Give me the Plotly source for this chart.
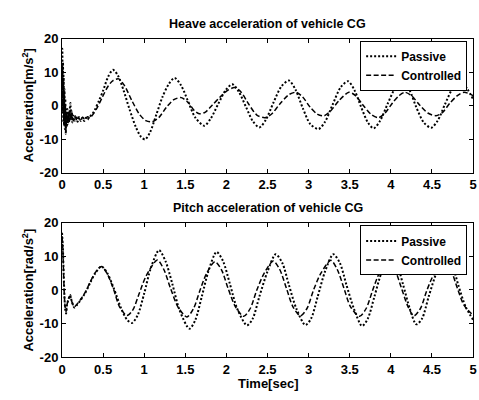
import plotly.graph_objects as go

# ---------------- data ----------------
heave_passive_t = [0.000, 0.004, 0.008, 0.012, 0.016, 0.020, 0.025, 0.030, 0.035, 0.040, 0.046, 0.052,
                   0.058, 0.065, 0.072, 0.080, 0.088, 0.095, 0.102, 0.110, 0.118, 0.126, 0.140, 0.155,
                   0.170, 0.190, 0.210, 0.230, 0.250, 0.270, 0.290, 0.310, 0.330, 0.360, 0.400, 0.450,
                   0.500, 0.560, 0.620, 0.680, 0.750, 0.820, 0.900, 0.960, 1.010, 1.070, 1.150, 1.220,
                   1.300, 1.370, 1.450, 1.530, 1.620, 1.730, 1.810, 1.900, 1.990, 2.070, 2.150, 2.240,
                   2.320, 2.400, 2.480, 2.570, 2.670, 2.760, 2.840, 2.930, 3.020, 3.120, 3.200, 3.290,
                   3.390, 3.480, 3.560, 3.640, 3.720, 3.790, 3.870, 3.960, 4.060, 4.150, 4.230, 4.310,
                   4.400, 4.490, 4.570, 4.660, 4.760, 4.850, 4.930, 5.000]
heave_passive = [0, 17, -2, 13, -5, 9, -6, 5, -7, 2, -8.5, -2,
                 -6.5, -1, -5.5, -2, -5, -1, 0.8, -4, -1.5, -5, -3, -4.5,
                 -3, -4.8, -3.5, -4.6, -3.6, -4.6, -3.6, -4.2, -3.4, -2.8, -1.2, 1.5,
                 4.5, 8.6, 10.7, 9.0, 4.5, -1.0, -6.5, -9.3, -10.1, -8.0, -2.5, 2.5,
                 6.5, 8.3, 6.0, 1.5, -3.5, -6.0, -3.8, 0.5, 4.6, 6.4, 4.2, -0.5,
                 -4.6, -6.5, -4.2, 0.8, 5.8, 7.5, 4.8, -0.8, -5.5, -7.0, -4.8, 0.2,
                 5.5, 7.3, 4.5, -0.5, -5.0, -6.8, -4.5, 0.5, 5.5, 7.3, 4.5, -0.5,
                 -5.0, -6.6, -4.5, 0.5, 5.5, 7.3, 5.0, 2.0]

heave_controlled_t = [0.000, 0.004, 0.009, 0.014, 0.020, 0.027, 0.034, 0.042, 0.050, 0.060, 0.070, 0.080,
                      0.090, 0.100, 0.110, 0.125, 0.140, 0.160, 0.180, 0.200, 0.220, 0.250, 0.280, 0.310,
                      0.340, 0.380, 0.430, 0.490, 0.560, 0.620, 0.690, 0.760, 0.850, 0.940, 1.020, 1.100,
                      1.180, 1.270, 1.360, 1.450, 1.540, 1.610, 1.670, 1.740, 1.830, 1.920, 2.010, 2.100,
                      2.180, 2.270, 2.370, 2.470, 2.550, 2.650, 2.760, 2.850, 2.930, 3.020, 3.110, 3.190,
                      3.270, 3.370, 3.490, 3.570, 3.660, 3.760, 3.850, 3.930, 4.020, 4.100, 4.170, 4.250,
                      4.350, 4.450, 4.550, 4.630, 4.720, 4.810, 4.890, 4.960, 5.000]
heave_controlled = [0, 12, -2, 7, -4, 3, -5, 0, -6, -2.5, -5, -2,
                    -4.5, -1.5, -4, -2.5, -4.5, -3, -4.5, -3.4, -4.5, -3.5, -4.2, -3.3,
                    -3.6, -2.5, -0.5, 2.5, 5.8, 7.5, 8.0, 6.0, 1.5, -2.5, -4.5, -4.8,
                    -3.5, -0.5, 1.8, 2.4, 0.8, -1.5, -2.4, -2.0, 0.2, 2.5, 4.5, 5.4,
                    4.0, 0.5, -2.8, -3.6, -2.5, 0.5, 3.3, 4.0, 2.5, -0.5, -2.6, -3.0,
                    -1.5, 1.5, 4.0, 3.0, 0.2, -2.6, -3.6, -2.2, 0.8, 3.0, 4.0, 3.0,
                    0.2, -2.2, -3.0, -2.0, 0.8, 3.0, 4.0, 3.5, 3.0]

pitch_passive_t = [0.000, 0.010, 0.020, 0.030, 0.040, 0.050, 0.060, 0.075, 0.090, 0.100, 0.120, 0.150,
                   0.180, 0.220, 0.280, 0.340, 0.400, 0.480, 0.550, 0.630, 0.720, 0.790, 0.850, 0.920,
                   1.000, 1.080, 1.180, 1.260, 1.340, 1.430, 1.550, 1.620, 1.700, 1.780, 1.880, 1.960,
                   2.040, 2.130, 2.250, 2.320, 2.400, 2.500, 2.600, 2.680, 2.760, 2.850, 2.960, 3.030,
                   3.110, 3.200, 3.300, 3.380, 3.460, 3.550, 3.650, 3.720, 3.800, 3.890, 3.990, 4.070,
                   4.150, 4.230, 4.310, 4.380, 4.460, 4.560, 4.660, 4.740, 4.820, 4.910, 5.000]
pitch_passive = [17, 13, 5, -2, -6, -7, -4.5, -3, -2, -1.5, -3.5, -5.2,
                 -4.5, -3.2, -1, 2, 4.8, 7.0, 5.0, 0.5, -5.5, -8.8, -9.8, -7.5,
                 -1.0, 6.5, 11.8, 8.5, 2.0, -6.0, -11.5, -9.0, -2.0, 5.5, 11.3, 8.5,
                 2.0, -5.5, -10.5, -8.5, -2.0, 5.5, 10.6, 8.0, 1.5, -5.5, -10.4, -8.5,
                 -2.0, 5.5, 10.6, 8.0, 1.5, -5.5, -10.7, -8.5, -2.0, 5.5, 10.6, 8.0,
                 1.5, -5.5, -10.2, -8.5, -2.0, 5.5, 10.6, 8.0, 1.5, -5.0, -8.8]

pitch_controlled_t = [0.000, 0.010, 0.020, 0.030, 0.040, 0.050, 0.060, 0.075, 0.090, 0.100, 0.120, 0.150,
                      0.180, 0.220, 0.280, 0.340, 0.400, 0.480, 0.550, 0.630, 0.700, 0.790, 0.860, 0.940,
                      1.020, 1.160, 1.240, 1.320, 1.410, 1.520, 1.600, 1.680, 1.760, 1.860, 1.940, 2.020,
                      2.110, 2.210, 2.290, 2.370, 2.460, 2.570, 2.650, 2.730, 2.810, 2.900, 2.980, 3.060,
                      3.150, 3.270, 3.350, 3.430, 3.510, 3.620, 3.700, 3.780, 3.860, 3.970, 4.050, 4.130,
                      4.210, 4.280, 4.360, 4.440, 4.530, 4.650, 4.730, 4.810, 4.890, 5.000]
pitch_controlled = [16, 12, 4, -2.5, -5.5, -6.5, -4.5, -3, -2, -1.8, -3.5, -5.0,
                    -4.3, -3.0, -0.8, 2.2, 5.0, 7.0, 4.8, 0.0, -5.0, -7.6, -6.0, -1.0,
                    4.0, 8.9, 6.0, 0.5, -5.0, -8.0, -5.5, 0.0, 5.0, 8.4, 6.0, 0.5,
                    -5.0, -7.8, -5.5, 0.0, 5.0, 8.6, 6.0, 0.5, -5.0, -7.7, -5.5, 0.0,
                    5.0, 8.8, 6.0, 0.5, -5.0, -7.8, -5.5, 0.0, 5.0, 8.8, 6.0, 0.5,
                    -5.0, -7.7, -5.5, 0.0, 5.0, 8.8, 6.0, 0.5, -4.5, -7.5]

x_tickvals = [0, 0.5, 1, 1.5, 2, 2.5, 3, 3.5, 4, 4.5, 5]
x_ticktext = ["0", "0.5", "1", "1.5", "2", "2.5", "3", "3.5", "4", "4.5", "5"]
y_tickvals = [-20, -10, 0, 10, 20]
y_ticktext = ["-20", "-10", "0", "10", "20"]

titles = ["Heave acceleration of vehicle CG", "Pitch acceleration of vehicle CG"]
ylabels = ["Acceleration[m/s<sup>2</sup>]", "Acceleration[rad/s<sup>2</sup>]"]
xlabel = "Time[sec]"
series_names = ["Passive", "Controlled"]

# ---------------- figure ----------------
W, H = 479, 400
FONT = "Liberation Sans"

fig = go.Figure()

passive_line = dict(color="black", width=2, dash="2px,2px", shape="spline", smoothing=0.8)
ctrl_line = dict(color="black", width=1.5, dash="5px,2.5px", shape="spline", smoothing=0.8)

fig.add_trace(go.Scatter(x=heave_passive_t, y=heave_passive, mode="lines", name=series_names[0],
                         line=passive_line, xaxis="x", yaxis="y", legend="legend"))
fig.add_trace(go.Scatter(x=heave_controlled_t, y=heave_controlled, mode="lines", name=series_names[1],
                         line=ctrl_line, xaxis="x", yaxis="y", legend="legend"))
fig.add_trace(go.Scatter(x=pitch_passive_t, y=pitch_passive, mode="lines", name=series_names[0],
                         line=passive_line, xaxis="x2", yaxis="y2", legend="legend2"))
fig.add_trace(go.Scatter(x=pitch_controlled_t, y=pitch_controlled, mode="lines", name=series_names[1],
                         line=ctrl_line, xaxis="x2", yaxis="y2", legend="legend2"))

x0, x1 = 59 / W, 477 / W
top_dom = [1 - 172 / H, 1 - 33 / H]
bot_dom = [1 - 364 / H, 1 - 224 / H]

tickfont = dict(family=FONT, size=13, color="black", weight="bold")
common_x = dict(range=[0, 5], tickmode="array", tickvals=x_tickvals, ticktext=x_ticktext,
                showline=True, linecolor="black", linewidth=1, ticklabeloverflow="allow",
                mirror="ticks", ticks="inside", ticklen=4, tickcolor="black", showgrid=False,
                zeroline=False, tickfont=tickfont, domain=[x0, x1])
common_y = dict(range=[-20, 20], tickmode="array", tickvals=y_tickvals, ticktext=y_ticktext,
                showline=True, linecolor="black", linewidth=1, ticklabeloverflow="allow",
                mirror="ticks", ticks="inside", ticklen=4, tickcolor="black", showgrid=False,
                zeroline=False, tickfont=tickfont)

legend_common = dict(bgcolor="white", bordercolor="black", borderwidth=1,
                     font=dict(family=FONT, size=12, color="black", weight="bold"),
                     xanchor="right", yanchor="top", x=471 / W, itemwidth=30,
                     tracegroupgap=0)

fig.update_layout(
    width=W, height=H, margin=dict(l=0, r=0, t=0, b=0),
    paper_bgcolor="white", plot_bgcolor="white",
    showlegend=True,
    xaxis=dict(**common_x, anchor="y"),
    yaxis=dict(**common_y, domain=top_dom, anchor="x"),
    xaxis2=dict(**common_x, anchor="y2"),
    yaxis2=dict(**common_y, domain=bot_dom, anchor="x2"),
    legend=dict(**legend_common, y=1 - 35 / H),
    legend2=dict(**legend_common, y=1 - 227 / H),
)

cx = (59 + 477) / 2 / W
title_font = dict(family=FONT, size=12.5, color="black", weight="bold")
label_font = dict(family=FONT, size=13, color="black", weight="bold")
fig.add_annotation(text=titles[0], xref="paper", yref="paper", x=cx, y=1 - 18 / H,
                   xanchor="center", yanchor="middle", showarrow=False, font=title_font)
fig.add_annotation(text=titles[1], xref="paper", yref="paper", x=cx, y=1 - 209 / H,
                   xanchor="center", yanchor="middle", showarrow=False, font=title_font)
fig.add_annotation(text=ylabels[0], xref="paper", yref="paper", x=24 / W, y=sum(top_dom) / 2,
                   xanchor="center", yanchor="middle", textangle=-90, showarrow=False, font=label_font)
fig.add_annotation(text=ylabels[1], xref="paper", yref="paper", x=24 / W, y=sum(bot_dom) / 2,
                   xanchor="center", yanchor="middle", textangle=-90, showarrow=False, font=label_font)
fig.add_annotation(text=xlabel, xref="paper", yref="paper", x=cx, y=1 - 391 / H,
                   xanchor="center", yanchor="middle", showarrow=False, font=label_font)

fig.write_html("out.html")
